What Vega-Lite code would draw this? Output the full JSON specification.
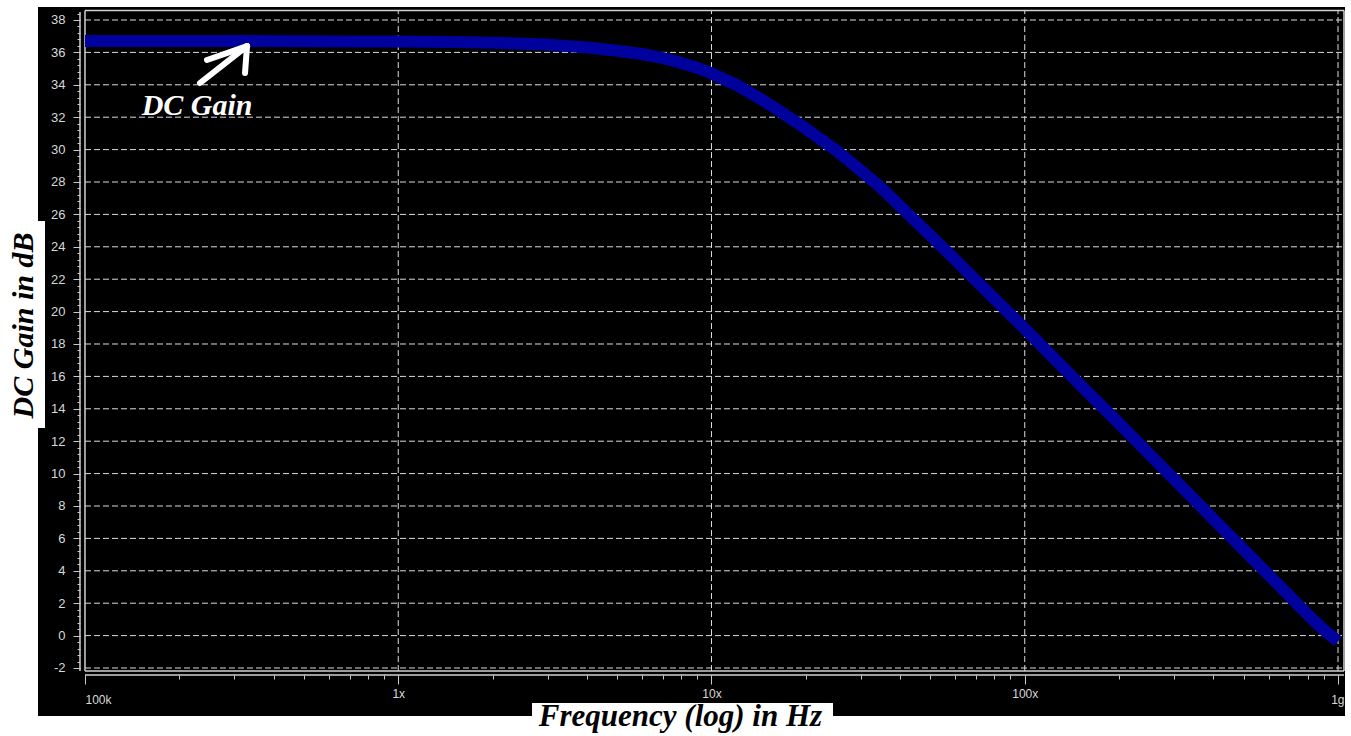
{
  "$schema": "https://vega.github.io/schema/vega-lite/v6.json",
  "width": 1307,
  "height": 709,
  "autosize": {"type": "none"},
  "padding": {"left": 38, "top": 7, "right": 6, "bottom": 20},
  "background": "white",
  "config": {"view": {"fill": "black", "stroke": null}},
  "resolve": {"axis": {"x": "independent", "y": "independent"}},
  "datasets": {
    "gain": [
      {"f": 100000, "g": 36.70}, {"f": 150000, "g": 36.70}, {"f": 200000, "g": 36.70},
      {"f": 300000, "g": 36.70}, {"f": 500000, "g": 36.69}, {"f": 700000, "g": 36.68},
      {"f": 1000000, "g": 36.67}, {"f": 1500000, "g": 36.64}, {"f": 2000000, "g": 36.60},
      {"f": 3000000, "g": 36.48}, {"f": 4000000, "g": 36.30}, {"f": 5000000, "g": 36.10},
      {"f": 6000000, "g": 35.90}, {"f": 7000000, "g": 35.65}, {"f": 8000000, "g": 35.35},
      {"f": 9000000, "g": 35.05}, {"f": 10000000, "g": 34.70}, {"f": 12000000, "g": 34.00},
      {"f": 14000000, "g": 33.25}, {"f": 16000000, "g": 32.55}, {"f": 20000000, "g": 31.30},
      {"f": 25000000, "g": 29.95}, {"f": 30000000, "g": 28.70}, {"f": 35000000, "g": 27.60},
      {"f": 40000000, "g": 26.50}, {"f": 50000000, "g": 24.70}, {"f": 60000000, "g": 23.20},
      {"f": 70000000, "g": 21.90}, {"f": 80000000, "g": 20.80}, {"f": 100000000, "g": 18.95},
      {"f": 120000000, "g": 17.40}, {"f": 150000000, "g": 15.50}, {"f": 200000000, "g": 13.10},
      {"f": 250000000, "g": 11.20}, {"f": 300000000, "g": 9.65}, {"f": 400000000, "g": 7.20},
      {"f": 500000000, "g": 5.30}, {"f": 600000000, "g": 3.75}, {"f": 700000000, "g": 2.45},
      {"f": 800000000, "g": 1.30}, {"f": 900000000, "g": 0.35}, {"f": 1000000000, "g": -0.35}
    ],
    "ygrid": [
      {"v": -2}, {"v": 0}, {"v": 2}, {"v": 4}, {"v": 6}, {"v": 8}, {"v": 10}, {"v": 12},
      {"v": 14}, {"v": 16}, {"v": 18}, {"v": 20}, {"v": 22}, {"v": 24}, {"v": 26}, {"v": 28},
      {"v": 30}, {"v": 32}, {"v": 34}, {"v": 36}, {"v": 38}
    ],
    "xgrid": [{"v": 1000000}, {"v": 10000000}, {"v": 100000000}, {"v": 1000000000}],
    "arrow": [
      {"xa": 232850, "ya": 34.11, "xb": 329050, "yb": 36.39},
      {"xa": 245150, "ya": 35.53, "xb": 329050, "yb": 36.39},
      {"xa": 324250, "ya": 34.73, "xb": 329050, "yb": 36.39}
    ],
    "note": [{"f": 151700, "g": 32.13, "t": "DC Gain"}],
    "one": [{}]
  },
  "layer": [
    {
      "data": {"name": "ygrid"},
      "mark": {"type": "rule", "color": "#dddddd", "strokeWidth": 1, "strokeDash": [6, 3]},
      "encoding": {
        "y": {"field": "v", "type": "quantitative", "scale": {"domain": [-4.963, 38.802], "nice": false, "zero": false},
          "axis": {
            "orient": "left", "offset": -42, "domain": false, "grid": false, "labels": false, "zindex": 1, "title": null,
            "values": [-2, -1.6, -1.2, -0.8, -0.4, 0, 0.4, 0.8, 1.2, 1.6, 2, 2.4, 2.8, 3.2, 3.6,
                       4, 4.4, 4.8, 5.2, 5.6, 6, 6.4, 6.8, 7.2, 7.6, 8, 8.4, 8.8, 9.2, 9.6,
                       10, 10.4, 10.8, 11.2, 11.6, 12, 12.4, 12.8, 13.2, 13.6, 14, 14.4, 14.8, 15.2, 15.6,
                       16, 16.4, 16.8, 17.2, 17.6, 18, 18.4, 18.8, 19.2, 19.6, 20, 20.4, 20.8, 21.2, 21.6,
                       22, 22.4, 22.8, 23.2, 23.6, 24, 24.4, 24.8, 25.2, 25.6, 26, 26.4, 26.8, 27.2, 27.6,
                       28, 28.4, 28.8, 29.2, 29.6, 30, 30.4, 30.8, 31.2, 31.6, 32, 32.4, 32.8, 33.2, 33.6,
                       34, 34.4, 34.8, 35.2, 35.6, 36, 36.4, 36.8, 37.2, 37.6, 38, 38.4],
            "tickSize": 3, "tickColor": "#c8c8c8", "tickWidth": 1
          }
        },
        "x": {"datum": 100000, "type": "quantitative", "axis": null, "scale": {"type": "log", "domain": [70794, 1052800000], "nice": false}},
        "x2": {"datum": 1045100000}
      }
    },
    {
      "data": {"name": "xgrid"},
      "mark": {"type": "rule", "color": "#dddddd", "strokeWidth": 1, "strokeDash": [6, 3]},
      "encoding": {
        "x": {"field": "v", "type": "quantitative", "scale": {"type": "log", "domain": [70794, 1052800000], "nice": false},
          "axis": {
            "orient": "bottom", "offset": -41, "domain": false, "grid": false, "labels": false, "zindex": 1, "title": null,
            "values": [100000, 200000, 300000, 400000, 500000, 600000, 700000, 800000, 900000,
                       1000000, 2000000, 3000000, 4000000, 5000000, 6000000, 7000000, 8000000, 9000000,
                       10000000, 20000000, 30000000, 40000000, 50000000, 60000000, 70000000, 80000000, 90000000,
                       100000000, 200000000, 300000000, 400000000, 500000000, 600000000, 700000000, 800000000, 900000000,
                       1000000000],
            "tickSize": 4, "tickColor": "#c8c8c8", "tickWidth": 1
          }
        },
        "y": {"datum": -2.19, "type": "quantitative", "axis": null, "scale": {"domain": [-4.963, 38.802], "nice": false, "zero": false}},
        "y2": {"datum": 38.59}
      }
    },
    {
      "data": {"name": "one"},
      "mark": {"type": "rule", "color": "#d0d0d0", "strokeWidth": 1.5},
      "encoding": {
        "y": {"datum": 38.59, "type": "quantitative", "axis": null, "scale": {"domain": [-4.963, 38.802], "nice": false, "zero": false}},
        "x": {"datum": 100000, "type": "quantitative", "axis": null, "scale": {"type": "log", "domain": [70794, 1052800000], "nice": false}},
        "x2": {"datum": 1045100000}
      }
    },
    {
      "data": {"name": "one"},
      "mark": {"type": "rule", "color": "#d0d0d0", "strokeWidth": 1.5},
      "encoding": {
        "y": {"datum": -2.19, "type": "quantitative", "axis": null, "scale": {"domain": [-4.963, 38.802], "nice": false, "zero": false}},
        "x": {"datum": 100000, "type": "quantitative", "axis": null, "scale": {"type": "log", "domain": [70794, 1052800000], "nice": false}},
        "x2": {"datum": 1045100000}
      }
    },
    {
      "data": {"name": "one"},
      "mark": {"type": "rule", "color": "#d0d0d0", "strokeWidth": 1.5},
      "encoding": {
        "y": {"datum": -2.43, "type": "quantitative", "axis": null, "scale": {"domain": [-4.963, 38.802], "nice": false, "zero": false}},
        "x": {"datum": 100000, "type": "quantitative", "axis": null, "scale": {"type": "log", "domain": [70794, 1052800000], "nice": false}},
        "x2": {"datum": 1045100000}
      }
    },
    {
      "data": {"name": "one"},
      "mark": {"type": "rule", "color": "#d0d0d0", "strokeWidth": 1.5},
      "encoding": {
        "x": {"datum": 100000, "type": "quantitative", "axis": null, "scale": {"type": "log", "domain": [70794, 1052800000], "nice": false}},
        "y": {"datum": -2.19, "type": "quantitative", "axis": null, "scale": {"domain": [-4.963, 38.802], "nice": false, "zero": false}},
        "y2": {"datum": 38.59}
      }
    },
    {
      "data": {"name": "one"},
      "mark": {"type": "rule", "color": "#d0d0d0", "strokeWidth": 1.5},
      "encoding": {
        "x": {"datum": 1045100000, "type": "quantitative", "axis": null, "scale": {"type": "log", "domain": [70794, 1052800000], "nice": false}},
        "y": {"datum": -2.19, "type": "quantitative", "axis": null, "scale": {"domain": [-4.963, 38.802], "nice": false, "zero": false}},
        "y2": {"datum": 38.59}
      }
    },
    {
      "data": {"name": "one"},
      "mark": {"type": "rule", "color": "#d0d0d0", "strokeWidth": 1.5},
      "encoding": {
        "x": {"datum": 96388, "type": "quantitative", "axis": null, "scale": {"type": "log", "domain": [70794, 1052800000], "nice": false}},
        "y": {"datum": -2.19, "type": "quantitative", "axis": null, "scale": {"domain": [-4.963, 38.802], "nice": false, "zero": false}},
        "y2": {"datum": 38.49}
      }
    },
    {
      "data": {"name": "one"},
      "mark": {"type": "rect", "color": "white"},
      "encoding": {
        "x": {"datum": 2672900, "type": "quantitative", "axis": null, "scale": {"type": "log", "domain": [70794, 1052800000], "nice": false}},
        "x2": {"datum": 24429000},
        "y": {"datum": -4.16, "type": "quantitative", "axis": null, "scale": {"domain": [-4.963, 38.802], "nice": false, "zero": false}},
        "y2": {"datum": -6.2}
      }
    },
    {
      "data": {"name": "one"},
      "mark": {"type": "rect", "color": "white"},
      "encoding": {
        "x": {"datum": 53550, "type": "quantitative", "axis": null, "scale": {"type": "log", "domain": [70794, 1052800000], "nice": false}},
        "x2": {"datum": 74530},
        "y": {"datum": 25.59, "type": "quantitative", "axis": null, "scale": {"domain": [-4.963, 38.802], "nice": false, "zero": false}},
        "y2": {"datum": 12.82}
      }
    },
    {
      "data": {"name": "gain"},
      "mark": {"type": "line", "color": "#00009c", "strokeWidth": 12, "strokeCap": "butt", "strokeJoin": "round"},
      "encoding": {
        "x": {
          "field": "f", "type": "quantitative",
          "scale": {"type": "log", "domain": [70794, 1052800000], "nice": false},
          "axis": {
            "orient": "bottom", "offset": -41, "domain": false, "grid": false, "zindex": 1,
            "values": [100000, 1000000, 10000000, 100000000, 1000000000],
            "labelExpr": "datum.value == 100000 ? '100k' : datum.value == 1000000 ? '1x' : datum.value == 10000000 ? '10x' : datum.value == 100000000 ? '100x' : '1g'",
            "tickSize": 9,
            "labelAlign": {"condition": [{"test": "datum.value < 150000", "value": "left"}, {"test": "datum.value > 950000000", "value": "right"}], "value": "center"},
            "labelPadding": {"condition": {"test": "datum.value < 150000 || datum.value > 950000000", "value": 10}, "value": 4},
            "labelOffset": {"condition": {"test": "datum.value > 950000000", "value": 6}, "value": 0},
            "labelFlush": false, "labelOverlap": false, "labelBound": false,
            "labelColor": "#d8d8d8", "labelFont": "Liberation Sans", "labelFontSize": 12,
            "tickColor": "#c8c8c8", "tickWidth": 1,
            "title": "Frequency (log) in Hz", "titleFont": "Liberation Serif", "titleFontSize": 31,
            "titleFontStyle": "italic", "titleFontWeight": "bold", "titleColor": "black",
            "titleX": 642, "titleY": 50, "titleBaseline": "alphabetic", "titleAlign": "center"
          }
        },
        "y": {
          "field": "g", "type": "quantitative",
          "scale": {"domain": [-4.963, 38.802], "nice": false, "zero": false},
          "axis": {
            "orient": "left", "offset": -42, "domain": false, "grid": false, "zindex": 1,
            "values": [-2, 0, 2, 4, 6, 8, 10, 12, 14, 16, 18, 20, 22, 24, 26, 28, 30, 32, 34, 36, 38],
            "labelExpr": "'' + round(datum.value)",
            "tickSize": 7,
            "labelPadding": 8, "labelOverlap": false, "labelBound": false, "labelFlush": false,
            "labelColor": "#d8d8d8", "labelFont": "Liberation Sans", "labelFontSize": 13,
            "tickColor": "#c8c8c8", "tickWidth": 1,
            "title": "DC Gain in dB", "titleFont": "Liberation Serif", "titleFontSize": 30,
            "titleFontStyle": "italic", "titleFontWeight": "bold", "titleColor": "black",
            "titleX": -48, "titleY": 318, "titleAngle": 270, "titleBaseline": "alphabetic", "titleAlign": "center"
          }
        }
      }
    },
    {
      "data": {"name": "arrow"},
      "mark": {"type": "rule", "color": "white", "strokeWidth": 6, "strokeCap": "round"},
      "encoding": {
        "x": {"field": "xa", "type": "quantitative", "axis": null, "scale": {"type": "log", "domain": [70794, 1052800000], "nice": false}},
        "y": {"field": "ya", "type": "quantitative", "axis": null, "scale": {"domain": [-4.963, 38.802], "nice": false, "zero": false}},
        "x2": {"field": "xb"},
        "y2": {"field": "yb"}
      }
    },
    {
      "data": {"name": "note"},
      "mark": {"type": "text", "color": "white", "font": "Liberation Serif", "fontSize": 30, "fontStyle": "italic", "fontWeight": "bold", "align": "left", "baseline": "alphabetic"},
      "encoding": {
        "x": {"field": "f", "type": "quantitative", "axis": null, "scale": {"type": "log", "domain": [70794, 1052800000], "nice": false}},
        "y": {"field": "g", "type": "quantitative", "axis": null, "scale": {"domain": [-4.963, 38.802], "nice": false, "zero": false}},
        "text": {"field": "t"}
      }
    }
  ]
}
